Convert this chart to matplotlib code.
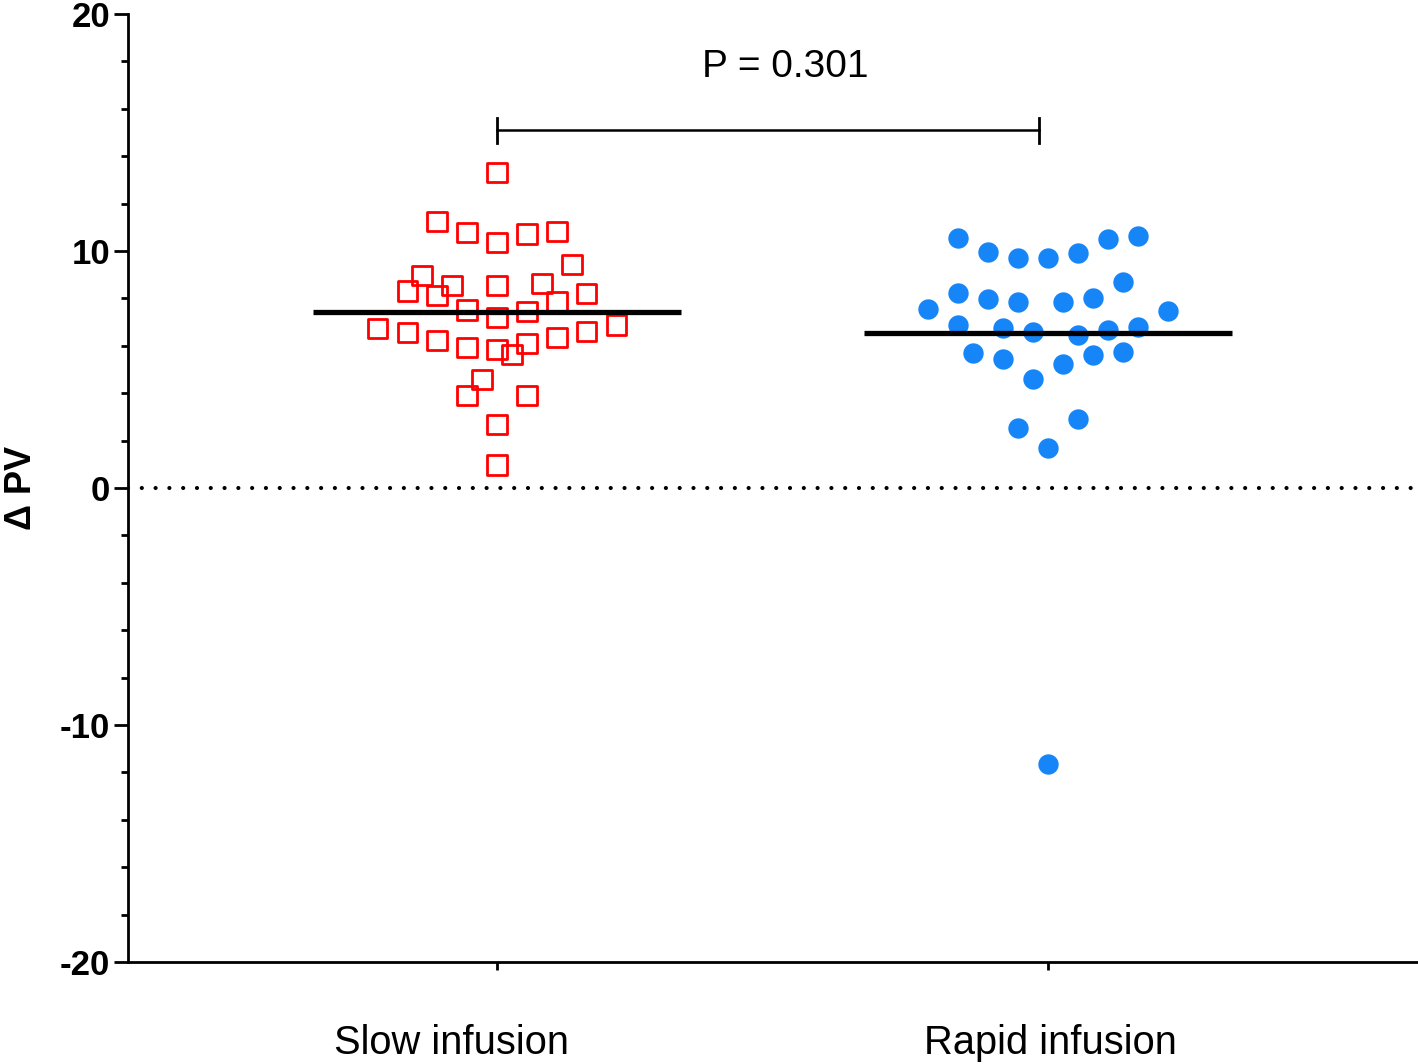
import numpy as np
import matplotlib
matplotlib.use("Agg")
import matplotlib.pyplot as plt

plt.rcParams['font.family'] = ['Liberation Sans', 'DejaVu Sans']
plt.rcParams['axes.unicode_minus'] = False

# data
groups = ["Slow infusion", "Rapid infusion"]
slow_vals = [13.32, 11.25, 10.77, 10.35, 10.72, 10.81, 9.44, 8.95, 8.31, 8.54,
             8.11, 8.54, 8.64, 8.22, 7.86, 7.51, 7.19, 7.46, 6.74, 6.55,
             6.24, 5.92, 5.86, 5.65, 6.11, 6.36, 6.59, 6.88, 4.59, 3.89,
             3.92, 2.69, 0.97]
slow_slots = [0, -4, -2, 0, 2, 4, 5, -5, -6, -3,
              -4, 0, 3, 6, 4, -2, 0, 2, -8, -6,
              -4, -2, 0, 1, 2, 4, 6, 8, -1, -2,
              2, 0, 0]
rapid_vals = [10.55, 9.96, 9.72, 9.69, 9.90, 10.51, 10.63, 8.70, 8.23, 7.99,
              7.85, 7.85, 8.03, 7.57, 7.46, 6.86, 6.74, 6.59, 6.46, 6.68,
              6.79, 5.71, 5.43, 4.59, 5.24, 5.61, 5.74, 2.53, 2.91, 1.68,
              -11.65]
rapid_slots = [-6, -4, -2, 0, 2, 4, 6, 5, -6, -4,
               -2, 1, 3, -8, 8, -6, -3, -1, 2, 4,
               6, -5, -3, -1, 1, 3, 5, -2, 2, 0,
               0]
p_text = "P = 0.301"

step = 0.0272  # jitter slot width in category units

fig = plt.figure(figsize=(14.18, 10.64), dpi=100)
ax = fig.add_axes([128/1418, 102/1064, 1290/1418, 948/1064])

ax.axhline(0, color="black", lw=3.0, linestyle=(0, (0.01, 3.3)),
           dash_capstyle="round", zorder=1)

xs = 0 + np.array(slow_slots) * step
ax.scatter(xs, slow_vals, s=190, marker="s", facecolors="none",
           edgecolors="#FF0000", linewidths=2.0, zorder=3)
xr = 1 + np.array(rapid_slots) * step
ax.scatter(xr, rapid_vals, s=215, marker="o", color="#1685F8",
           linewidths=0, zorder=3)

for i, v in enumerate([slow_vals, rapid_vals]):
    m = np.mean(v)
    ax.plot([i - 0.334, i + 0.334], [m, m], color="black", lw=3.8,
            solid_capstyle="butt", zorder=4)

# significance bracket
ax.plot([0, 0.984], [15.1, 15.1], color="black", lw=1.8)
ax.plot([0, 0], [14.55, 15.6], color="black", lw=2.0)
ax.plot([0.984, 0.984], [14.55, 15.6], color="black", lw=2.0)
ax.text(0.524, 17.75, p_text, ha="center", va="center", fontsize=28)

ax.set_xlim(-0.6697, 1.6715)
ax.set_ylim(-20, 20)
ax.set_yticks([-20, -10, 0, 10, 20])
ax.set_yticks(np.arange(-20, 21, 2), minor=True)
ax.set_xticks([0, 1])
ax.set_xticklabels([])
ax.tick_params(axis="y", which="major", length=10, width=2.0, pad=3,
               labelsize=25)
ax.tick_params(axis="y", which="minor", length=5, width=2.0)
ax.tick_params(axis="x", which="major", length=6, width=2.0)
for lab in ax.get_yticklabels():
    lab.set_fontweight("bold")

for sp in ["top", "right"]:
    ax.spines[sp].set_visible(False)
for sp in ["left", "bottom"]:
    ax.spines[sp].set_linewidth(2.0)

# category labels (GraphPad places the first one slightly left)
label_shift = [-33, 2]
for i, g in enumerate(groups):
    ax.annotate(g, xy=(i, 0), xycoords=("data", "axes fraction"),
                xytext=(label_shift[i], -45), textcoords="offset points",
                ha="center", va="top", fontsize=28.7)

ax.set_ylabel("Δ PV", fontsize=26, fontweight="bold")
ax.yaxis.set_label_coords(-0.0693, 0.5)

fig.savefig("out.png", dpi=100)
